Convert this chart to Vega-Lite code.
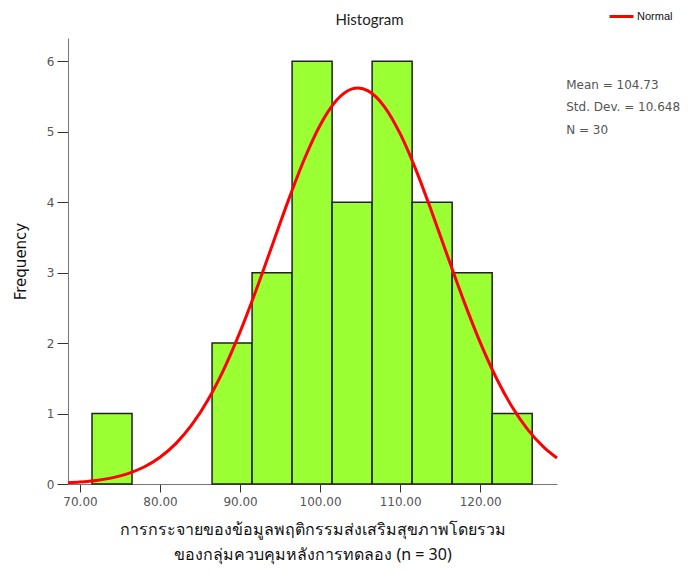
{
  "$schema": "https://vega.github.io/schema/vega-lite/v6.json",
  "autosize": {"type": "none"},
  "width": 489,
  "height": 446,
  "padding": {"left": 68, "top": 38, "right": 139, "bottom": 98},
  "background": "white",
  "config": {"view": {"stroke": null}},
  "title": {"text": "Histogram", "font": "Lato", "fontSize": 15, "fontWeight": "normal", "color": "#222", "dx": 57, "dy": 35, "offset": 10},
  "datasets": {
    "bars": [
      {"bin_start": 71.5, "bin_end": 76.5, "count": 1},
      {"bin_start": 86.5, "bin_end": 91.5, "count": 2},
      {"bin_start": 91.5, "bin_end": 96.5, "count": 3},
      {"bin_start": 96.5, "bin_end": 101.5, "count": 6},
      {"bin_start": 101.5, "bin_end": 106.5, "count": 4},
      {"bin_start": 106.5, "bin_end": 111.5, "count": 6},
      {"bin_start": 111.5, "bin_end": 116.5, "count": 4},
      {"bin_start": 116.5, "bin_end": 121.5, "count": 3},
      {"bin_start": 121.5, "bin_end": 126.5, "count": 1}
    ],
    "curve": [
      {"x": 68.5, "y": 0.017, "series": "Normal"},
      {"x": 70, "y": 0.028, "series": "Normal"},
      {"x": 72, "y": 0.050, "series": "Normal"},
      {"x": 74, "y": 0.087, "series": "Normal"},
      {"x": 76, "y": 0.148, "series": "Normal"},
      {"x": 78, "y": 0.241, "series": "Normal"},
      {"x": 80, "y": 0.379, "series": "Normal"},
      {"x": 82, "y": 0.576, "series": "Normal"},
      {"x": 84, "y": 0.845, "series": "Normal"},
      {"x": 86, "y": 1.196, "series": "Normal"},
      {"x": 88, "y": 1.635, "series": "Normal"},
      {"x": 90, "y": 2.159, "series": "Normal"},
      {"x": 92, "y": 2.750, "series": "Normal"},
      {"x": 94, "y": 3.383, "series": "Normal"},
      {"x": 96, "y": 4.015, "series": "Normal"},
      {"x": 98, "y": 4.602, "series": "Normal"},
      {"x": 100, "y": 5.092, "series": "Normal"},
      {"x": 102, "y": 5.439, "series": "Normal"},
      {"x": 104, "y": 5.607, "series": "Normal"},
      {"x": 104.73, "y": 5.620, "series": "Normal"},
      {"x": 106, "y": 5.580, "series": "Normal"},
      {"x": 108, "y": 5.361, "series": "Normal"},
      {"x": 110, "y": 4.972, "series": "Normal"},
      {"x": 112, "y": 4.452, "series": "Normal"},
      {"x": 114, "y": 3.847, "series": "Normal"},
      {"x": 116, "y": 3.210, "series": "Normal"},
      {"x": 118, "y": 2.585, "series": "Normal"},
      {"x": 120, "y": 2.010, "series": "Normal"},
      {"x": 122, "y": 1.508, "series": "Normal"},
      {"x": 124, "y": 1.093, "series": "Normal"},
      {"x": 126, "y": 0.764, "series": "Normal"},
      {"x": 128, "y": 0.516, "series": "Normal"},
      {"x": 129.6, "y": 0.368, "series": "Normal"}
    ],
    "stats": [
      {"x": 130.75, "y": 5.66, "label": "Mean = 104.73"},
      {"x": 130.75, "y": 5.35, "label": "Std. Dev. = 10.648"},
      {"x": 130.75, "y": 5.02, "label": "N = 30"}
    ]
  },
  "layer": [
    {
      "data": {"name": "bars"},
      "mark": {"type": "rect", "fill": "#9aff33", "stroke": "#222", "strokeWidth": 1.5},
      "encoding": {
        "x": {
          "field": "bin_start", "type": "quantitative",
          "scale": {"domain": [68.5, 129.6], "nice": false, "zero": false},
          "axis": {
            "values": [70, 80, 90, 100, 110, 120], "format": ".2f",
            "title": ["การกระจายของข้อมูลพฤติกรรมส่งเสริมสุขภาพโดยรวม", "ของกลุ่มควบคุมหลังการทดลอง (n = 30)"],
            "titleFont": "Noto Sans", "titleFontSize": 16, "titleFontWeight": "normal", "titleColor": "#111", "titleLineHeight": 25, "titlePadding": 14,
            "labelFont": "DejaVu Sans", "labelFontSize": 12, "labelColor": "#555", "labelPadding": 4,
            "domainColor": "#777", "tickColor": "#333", "tickSize": 8, "grid": false
          }
        },
        "x2": {"field": "bin_end"},
        "y": {
          "field": "count", "type": "quantitative",
          "scale": {"domain": [0, 6.33], "nice": false},
          "axis": {
            "values": [0, 1, 2, 3, 4, 5, 6], "format": "d", "title": "Frequency",
            "titleFont": "DejaVu Sans", "titleFontSize": 15, "titleFontWeight": "normal", "titleColor": "#111", "titlePadding": 18,
            "labelFont": "DejaVu Sans", "labelFontSize": 12, "labelColor": "#555", "labelPadding": 3,
            "domainColor": "#777", "tickColor": "#333", "tickSize": 11, "grid": false
          }
        },
        "y2": {"datum": 0}
      }
    },
    {
      "data": {"name": "curve"},
      "mark": {"type": "line", "strokeWidth": 3, "interpolate": "monotone"},
      "encoding": {
        "x": {"field": "x", "type": "quantitative"},
        "y": {"field": "y", "type": "quantitative"},
        "color": {
          "field": "series", "type": "nominal",
          "scale": {"range": ["#ff0000"]},
          "legend": {
            "title": null, "orient": "none", "legendX": 540, "legendY": -35,
            "symbolType": "stroke", "symbolStrokeWidth": 3, "symbolSize": 576,
            "labelFont": "Liberation Sans", "labelFontSize": 11, "labelColor": "#111", "labelOffset": 2
          }
        }
      }
    },
    {
      "data": {"name": "stats"},
      "mark": {"type": "text", "align": "left", "baseline": "middle", "font": "DejaVu Sans", "fontSize": 12, "color": "#555"},
      "encoding": {
        "x": {"field": "x", "type": "quantitative"},
        "y": {"field": "y", "type": "quantitative"},
        "text": {"field": "label"}
      }
    }
  ]
}
